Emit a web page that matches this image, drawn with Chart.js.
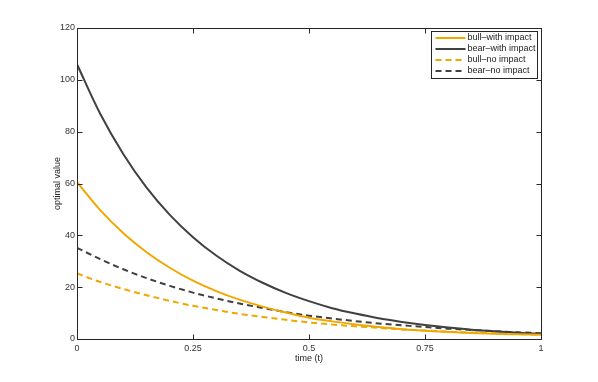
<!DOCTYPE html>
<html><head><meta charset="utf-8">
<script src="https://cdn.jsdelivr.net/npm/chart.js@4/dist/chart.umd.min.js"></script>
<style>html,body{margin:0;padding:0;background:#fff;}#wrap{width:598px;height:382px;}</style>
</head><body><div id="wrap"><canvas id="c" width="598" height="382"></canvas></div>
<script>
const timeSteps = [0,0.05,0.1,0.15,0.2,0.25,0.3,0.35,0.4,0.45,0.5,0.55,0.6,0.65,0.7,0.75,0.8,0.85,0.9,0.95,1];
const bullWithImpact = [60.5,49.7,40.8,33.5,27.5,22.5,18.5,15.2,12.5,10.2,8.2,6.8,5.6,4.6,3.8,3.2,2.7,2.3,2.0,1.8,1.6];
const bearWithImpact = [106,86.9,71.3,58.4,47.9,39.3,32.2,26.4,21.7,17.8,14.6,11.9,9.8,8.0,6.6,5.4,4.4,3.6,3.0,2.4,2.0];
const bullNoImpact = [25.3,22.0,19.3,16.9,14.7,12.8,11.2,9.7,8.5,7.4,6.4,5.6,4.9,4.3,3.7,3.3,2.8,2.5,2.2,1.9,1.7];
const bearNoImpact = [35.2,30.8,26.9,23.5,20.5,17.9,15.7,13.7,12.0,10.4,9.0,7.9,6.9,6.0,5.3,4.6,4.0,3.5,3.0,2.6,2.2];
const xTickValues = [0,0.25,0.5,0.75,1];
const xTickLabels = ['0','0.25','0.5','0.75','1'];
const yTickValues = [0,20,40,60,80,100,120];
const seriesLabels = ['bull\u2013with impact','bear\u2013with impact','bull\u2013no impact','bear\u2013no impact'];

const YELLOW = '#f0a800';
const DARK = '#404040';
const FONT = '"Liberation Sans", Arial, Helvetica, sans-serif';

function pts(vals){ return timeSteps.map((t,i)=>({x:t,y:vals[i]})); }

const seriesDefs = [
  {label:seriesLabels[0], data:pts(bullWithImpact), color:YELLOW, dash:[]},
  {label:seriesLabels[1], data:pts(bearWithImpact), color:DARK, dash:[]},
  {label:seriesLabels[2], data:pts(bullNoImpact), color:YELLOW, dash:[6,4]},
  {label:seriesLabels[3], data:pts(bearNoImpact), color:DARK, dash:[6,4]}
];

const boxPlugin = {
  id:'boxAndLegend',
  afterDatasetsDraw(chart){
    const {ctx, chartArea:a, scales:{x,y}} = chart;
    ctx.save();
    const L=Math.round(a.left)+0.5, R=Math.round(a.right)+0.5, T=Math.round(a.top)+0.5, B=Math.round(a.bottom)+0.5;
    ctx.strokeStyle='#262626'; ctx.lineWidth=1; ctx.setLineDash([]);
    ctx.strokeRect(L,T,R-L,B-T);
    const tl=5;
    ctx.beginPath();
    xTickValues.forEach(v=>{
      const px=Math.round(x.getPixelForValue(v))+0.5;
      ctx.moveTo(px,B); ctx.lineTo(px,B-tl);
      ctx.moveTo(px,T); ctx.lineTo(px,T+tl);
    });
    yTickValues.forEach(v=>{
      const py=Math.round(y.getPixelForValue(v))+0.5;
      ctx.moveTo(L,py); ctx.lineTo(L+tl,py);
      ctx.moveTo(R,py); ctx.lineTo(R-tl,py);
    });
    ctx.stroke();
    // legend
    const lw=106, lh=47;
    const lx=Math.round(a.right)-4-lw+0.5, ly=Math.round(a.top)+3+0.5;
    ctx.fillStyle='#fff';
    ctx.fillRect(lx,ly,lw,lh);
    ctx.strokeStyle='#262626'; ctx.lineWidth=1;
    ctx.strokeRect(lx,ly,lw,lh);
    ctx.font='9px '+FONT;
    ctx.textBaseline='middle'; ctx.textAlign='left';
    chart.data.datasets.forEach((ds,i)=>{
      const cy=ly+6.5+i*11;
      ctx.strokeStyle=ds.borderColor; ctx.lineWidth=2;
      ctx.setLineDash(ds.borderDash||[]);
      ctx.beginPath(); ctx.moveTo(lx+4,cy); ctx.lineTo(lx+34,cy); ctx.stroke();
      ctx.setLineDash([]);
      ctx.fillStyle='#222';
      ctx.fillText(ds.label, lx+36, cy);
    });
    ctx.restore();
  }
};

new Chart(document.getElementById('c'), {
  type:'line',
  data:{datasets:seriesDefs.map(s=>({
    label:s.label, data:s.data, borderColor:s.color, backgroundColor:s.color,
    borderWidth:2, borderDash:s.dash, pointRadius:0, fill:false,
    cubicInterpolationMode:'monotone'
  }))},
  options:{
    responsive:false, animation:false, devicePixelRatio:1,
    layout:{padding:{left:0,top:28,right:57,bottom:0}},
    plugins:{legend:{display:false}, tooltip:{enabled:false}},
    scales:{
      x:{type:'linear', min:0, max:1,
        afterBuildTicks:s=>{ s.ticks = xTickValues.map(v=>({value:v})); },
        afterFit:s=>{ s.height=43; },
        grid:{display:false, drawTicks:false}, border:{display:false},
        ticks:{padding:4, color:'#333', font:{family:FONT,size:9}, maxRotation:0,
          callback:(v,i)=>xTickLabels[i]},
        title:{display:true, text:'time (t)', color:'#222', font:{family:FONT,size:9}, padding:{top:0,bottom:18}}
      },
      y:{type:'linear', min:0, max:120,
        afterBuildTicks:s=>{ s.ticks = yTickValues.map(v=>({value:v})); },
        afterFit:s=>{ s.width=77; },
        grid:{display:false, drawTicks:false}, border:{display:false},
        ticks:{padding:2, color:'#333', font:{family:FONT,size:9}, callback:v=>String(v)},
        title:{display:true, text:'optimal value', color:'#222', font:{family:FONT,size:9}, padding:{top:52,bottom:0}}
      }
    }
  },
  plugins:[boxPlugin]
});
</script></body></html>
